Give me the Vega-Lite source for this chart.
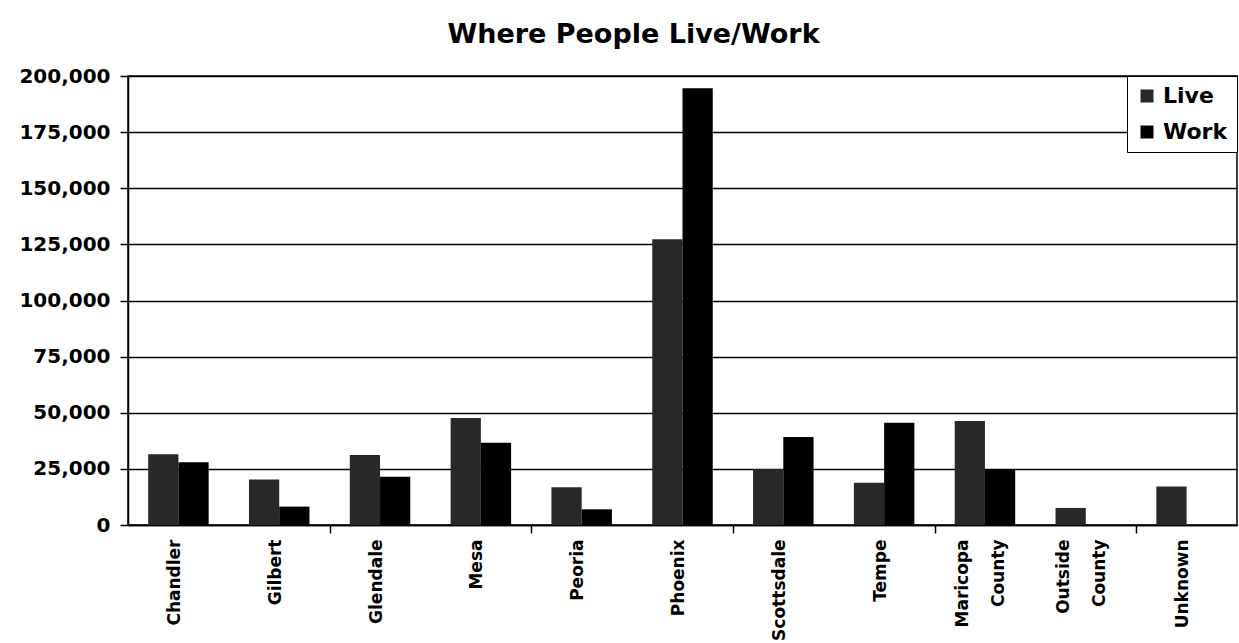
{
  "$schema": "https://vega.github.io/schema/vega-lite/v6.json",
  "width": 1109,
  "height": 449,
  "autosize": {"type": "none"},
  "padding": {"left": 128, "top": 76, "right": 2, "bottom": 118},
  "background": "white",
  "title": {
    "text": "Where People Live/Work",
    "font": "DejaVu Sans",
    "fontSize": 27,
    "fontWeight": "bold",
    "color": "black",
    "anchor": "middle",
    "frame": "group",
    "dx": -49,
    "offset": 17
  },
  "data": {
    "values": [
      {"city": "Chandler", "type": "Live", "value": 31500},
      {"city": "Chandler", "type": "Work", "value": 28000},
      {"city": "Gilbert", "type": "Live", "value": 20300},
      {"city": "Gilbert", "type": "Work", "value": 8200},
      {"city": "Glendale", "type": "Live", "value": 31200},
      {"city": "Glendale", "type": "Work", "value": 21500},
      {"city": "Mesa", "type": "Live", "value": 47700},
      {"city": "Mesa", "type": "Work", "value": 36600},
      {"city": "Peoria", "type": "Live", "value": 16800},
      {"city": "Peoria", "type": "Work", "value": 7000},
      {"city": "Phoenix", "type": "Live", "value": 127300},
      {"city": "Phoenix", "type": "Work", "value": 194500},
      {"city": "Scottsdale", "type": "Live", "value": 24900},
      {"city": "Scottsdale", "type": "Work", "value": 39200},
      {"city": "Tempe", "type": "Live", "value": 18800},
      {"city": "Tempe", "type": "Work", "value": 45600},
      {"city": "Maricopa County", "type": "Live", "value": 46300},
      {"city": "Maricopa County", "type": "Work", "value": 24900},
      {"city": "Outside County", "type": "Live", "value": 7600},
      {"city": "Outside County", "type": "Work", "value": 0},
      {"city": "Unknown", "type": "Live", "value": 17200},
      {"city": "Unknown", "type": "Work", "value": 0}
    ]
  },
  "mark": {"type": "bar"},
  "encoding": {
    "x": {
      "field": "city",
      "type": "nominal",
      "sort": null,
      "scale": {"paddingInner": 0.4, "paddingOuter": 0.2},
      "axis": {
        "title": null,
        "labelAngle": -90,
        "labelFont": "DejaVu Sans",
        "labelFontWeight": "bold",
        "labelFontSize": 17,
        "labelColor": "black",
        "labelPadding": 6,
        "labelLineHeight": 36,
        "labelOverlap": false,
        "labelExpr": "split(datum.label, ' ')",
        "labelBaseline": {
          "condition": {"test": "indexof(datum.value, ' ') >= 0", "value": "line-bottom"},
          "value": "middle"
        },
        "labelOffset": -24.2,
        "domainColor": "black",
        "domainWidth": 1.5,
        "tickColor": "black",
        "tickWidth": 1.5,
        "tickSize": 8,
        "bandPosition": 1,
        "tickExtra": false,
        "tickOffset": 20.2,
        "tickOpacity": {
          "condition": {
            "test": "indexof(['Gilbert','Mesa','Phoenix','Tempe','Outside County'], datum.value) >= 0",
            "value": 1
          },
          "value": 0
        },
        "grid": false
      }
    },
    "xOffset": {"field": "type", "type": "nominal", "sort": ["Live", "Work"]},
    "y": {
      "field": "value",
      "type": "quantitative",
      "scale": {"domain": [0, 200000], "nice": false},
      "axis": {
        "title": null,
        "values": [0, 25000, 50000, 75000, 100000, 125000, 150000, 175000, 200000],
        "format": ",d",
        "labelFont": "DejaVu Sans",
        "labelFontWeight": "bold",
        "labelFontSize": 20,
        "labelColor": "black",
        "labelPadding": 10,
        "tickColor": "black",
        "tickWidth": 1.5,
        "tickSize": 8,
        "domainColor": "black",
        "domainWidth": 1.5,
        "grid": true,
        "gridColor": "black",
        "gridWidth": 1.5
      }
    },
    "color": {
      "field": "type",
      "type": "nominal",
      "scale": {"domain": ["Live", "Work"], "range": ["#282828", "#000000"]},
      "legend": {
        "title": null,
        "orient": "top-right",
        "offset": 0,
        "padding": 9,
        "strokeColor": "black",
        "fillColor": "white",
        "symbolType": "square",
        "symbolSize": 169,
        "symbolStrokeWidth": 0,
        "labelFont": "DejaVu Sans",
        "labelFontWeight": "bold",
        "labelFontSize": 22,
        "labelColor": "black",
        "labelOffset": 5,
        "rowPadding": 14
      }
    }
  },
  "config": {
    "font": "DejaVu Sans",
    "view": {"stroke": "black", "strokeWidth": 1.5}
  }
}
